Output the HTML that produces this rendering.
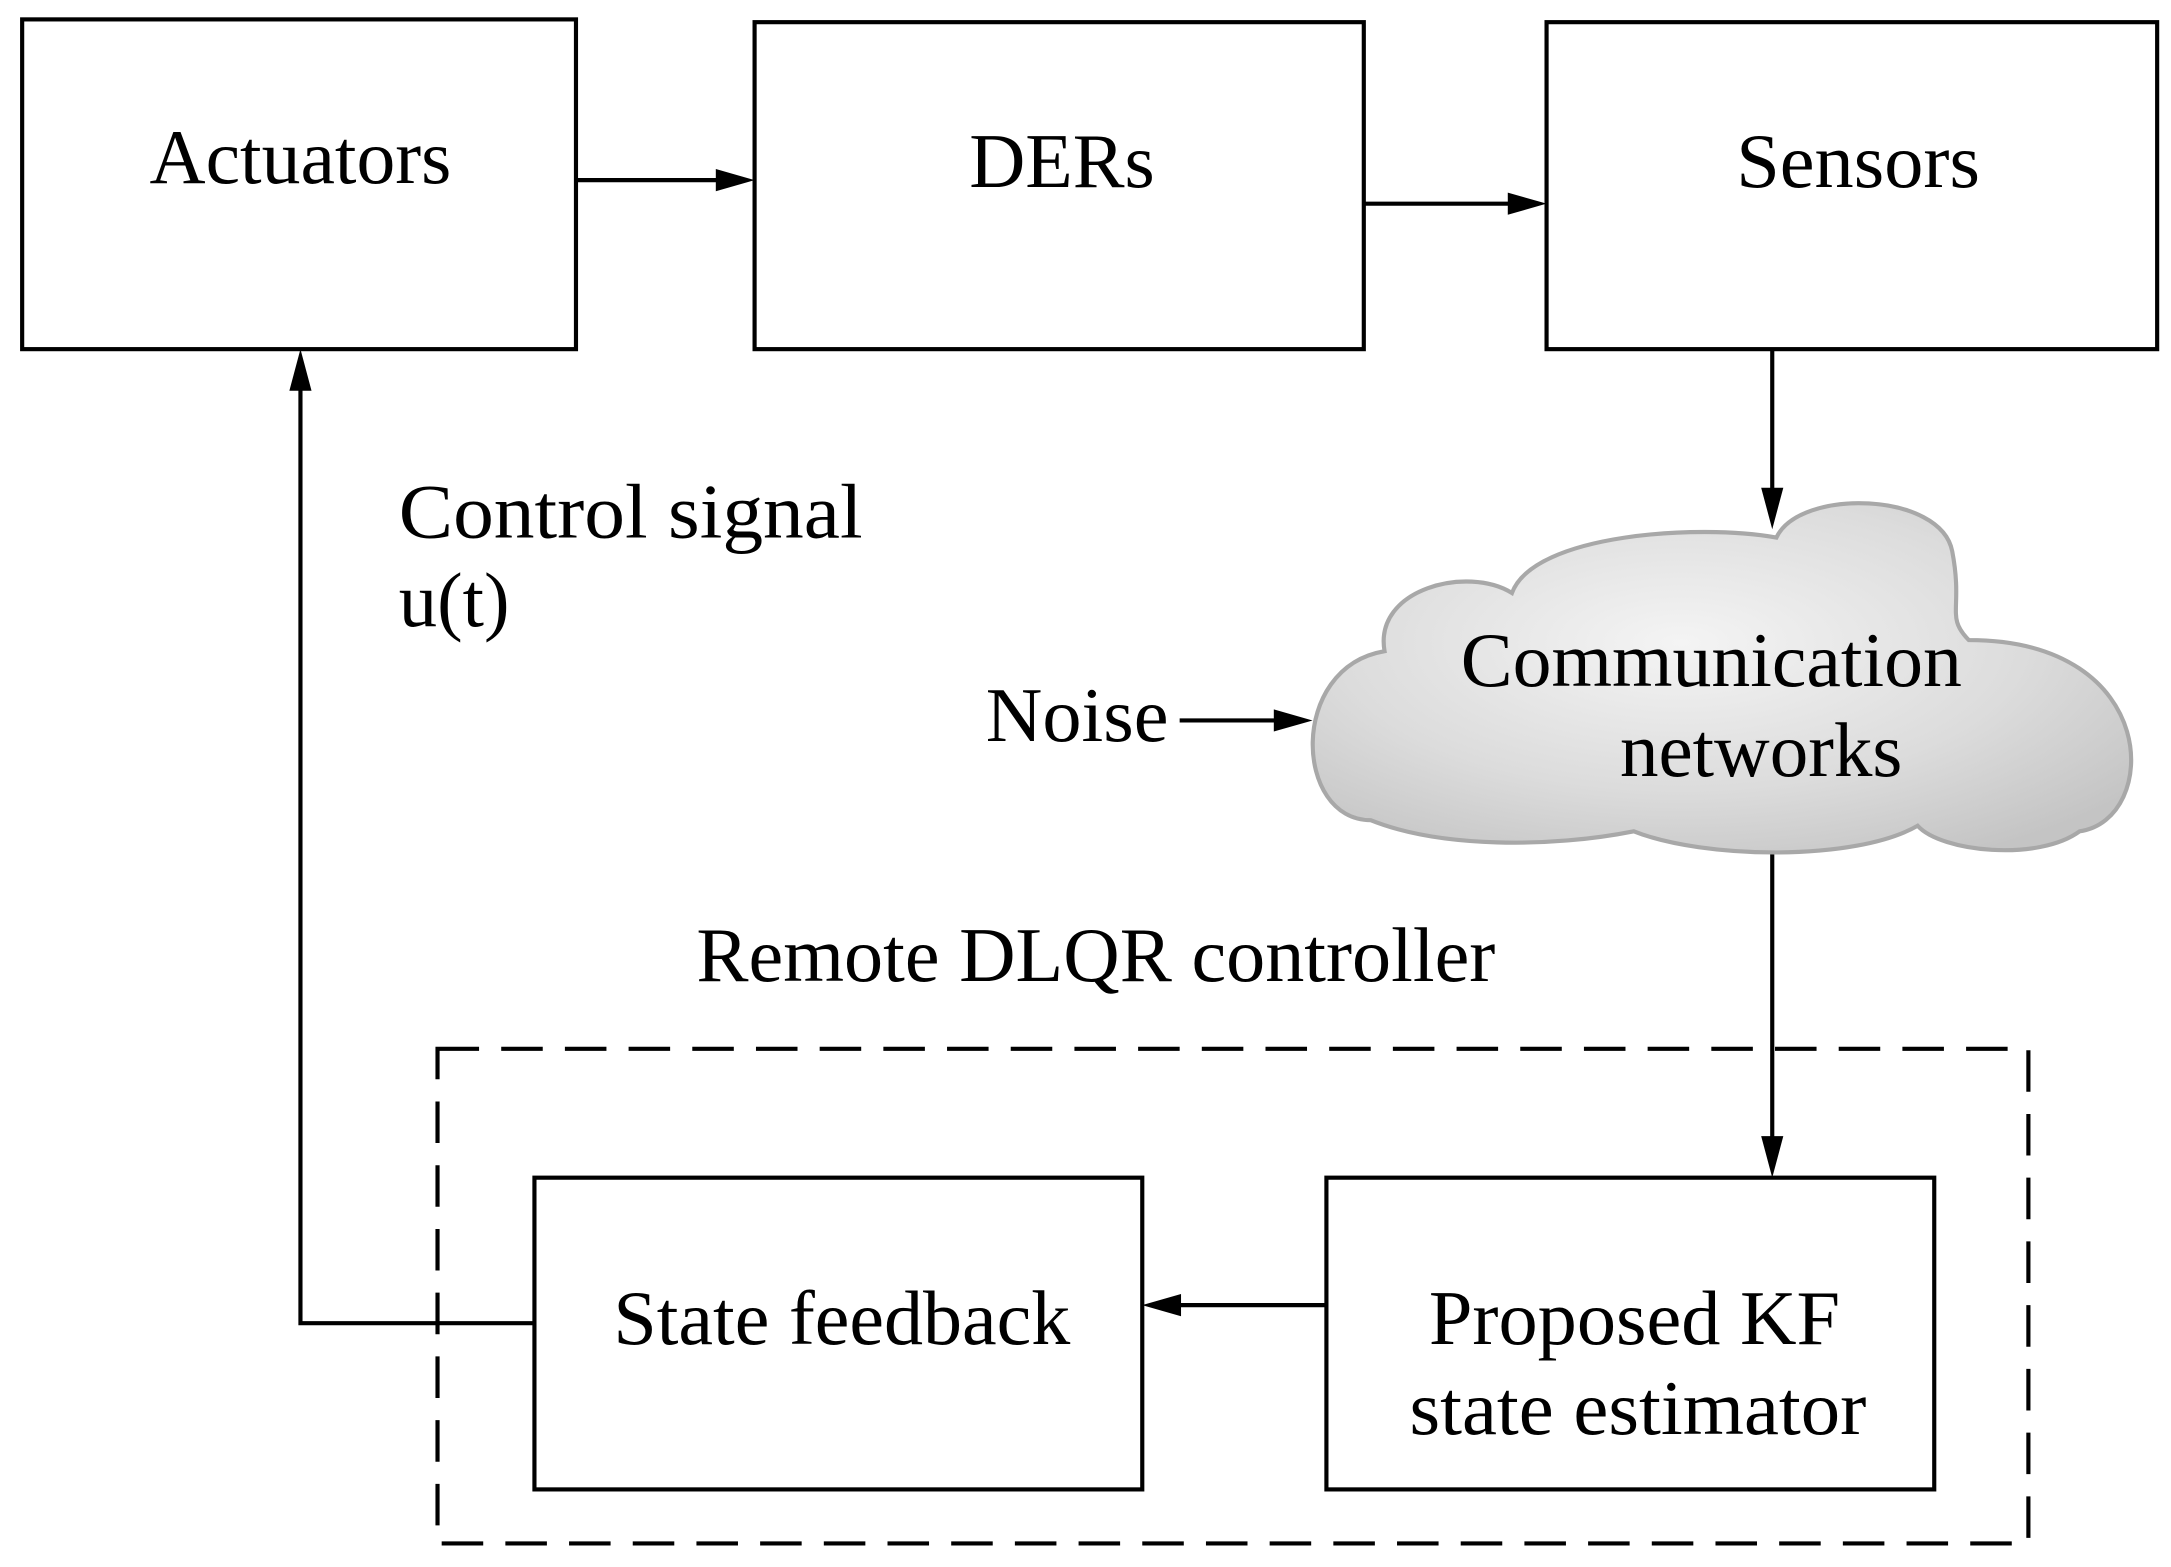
<!DOCTYPE html>
<html><head><meta charset="utf-8"><style>
html,body{margin:0;padding:0;background:#fff;}
svg{display:block;}
text{font-family:"Liberation Serif",serif;fill:#000;}
</style></head><body>
<svg width="2171" height="1567" viewBox="0 0 1568 1131" preserveAspectRatio="none" xmlns="http://www.w3.org/2000/svg">
<defs>
<radialGradient id="cg" cx="0.45" cy="0.4" r="0.7">
<stop offset="0" stop-color="#f4f4f4"/><stop offset="0.6" stop-color="#dcdcdc"/><stop offset="1" stop-color="#c4c4c4"/>
</radialGradient>
</defs>
<g fill="none" stroke="#000" stroke-width="3">
<rect x="16" y="14" width="400" height="238"/>
<rect x="545" y="16" width="440" height="236"/>
<rect x="1117" y="16" width="441" height="236"/>
<rect x="386" y="850" width="439" height="225"/>
<rect x="958" y="850" width="439" height="225"/>
<rect x="316" y="757" width="1149" height="357" stroke-dasharray="30,16"/>
<line x1="416" y1="130" x2="525" y2="130"/>
<line x1="985" y1="147" x2="1097" y2="147"/>
<line x1="1280" y1="252" x2="1280" y2="360"/>
<line x1="852" y1="520" x2="928" y2="520"/>
<line x1="1280" y1="612" x2="1280" y2="830"/>
<line x1="958" y1="942" x2="845" y2="942"/>
<polyline points="386,955 217,955 217,272"/>
</g>
<g fill="#000">
<polygon points="545,130 517,122 517,138"/>
<polygon points="1117,147 1089,139 1089,155"/>
<polygon points="1280,382 1272,352 1288,352"/>
<polygon points="948,520 920,512 920,528"/>
<polygon points="1280,850 1272,820 1288,820"/>
<polygon points="825,942 853,934 853,950"/>
<polygon points="217,252 209,282 225,282"/>
</g>
<path d="M990,592 C935,592 930,482 1000,470 C992,425 1060,408 1092,428 C1108,385 1228,378 1283,388 C1300,352 1402,355 1410,398 C1418,440 1405,445 1422,462 C1562,462 1560,592 1502,600 C1472,622 1402,615 1385,596 C1340,622 1230,620 1180,600 C1120,612 1040,612 990,592 Z" fill="url(#cg)" stroke="#a8a8a8" stroke-width="3"/>
<g font-size="56">
<text x="108" y="132" textLength="218" lengthAdjust="spacingAndGlyphs">Actuators</text>
<text x="700" y="135" textLength="134" lengthAdjust="spacingAndGlyphs">DERs</text>
<text x="1254" y="135" textLength="176" lengthAdjust="spacingAndGlyphs">Sensors</text>
<text x="288" y="388" textLength="335" lengthAdjust="spacingAndGlyphs">Control  signal</text>
<text x="288" y="452" textLength="80" lengthAdjust="spacingAndGlyphs">u(t)</text>
<text x="712" y="535" textLength="132" lengthAdjust="spacingAndGlyphs">Noise</text>
<text x="1055" y="495" textLength="362" lengthAdjust="spacingAndGlyphs">Communication</text>
<text x="1170" y="560" textLength="204" lengthAdjust="spacingAndGlyphs">networks</text>
<text x="503" y="708" textLength="577" lengthAdjust="spacingAndGlyphs">Remote DLQR controller</text>
<text x="443" y="970" textLength="330" lengthAdjust="spacingAndGlyphs">State feedback</text>
<text x="1032" y="970" textLength="297" lengthAdjust="spacingAndGlyphs">Proposed KF</text>
<text x="1018" y="1035" textLength="330" lengthAdjust="spacingAndGlyphs">state estimator</text>
</g>
</svg>
</body></html>
